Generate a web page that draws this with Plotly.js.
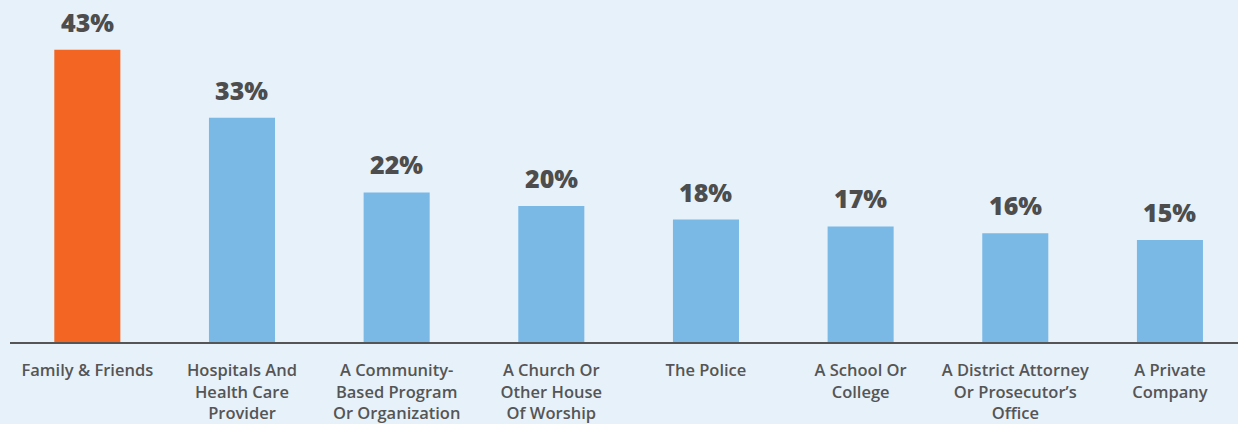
<!DOCTYPE html>
<html>
<head>
<meta charset="utf-8">
<script src="https://cdn.plot.ly/plotly-3.0.1.min.js"></script>
<style>html,body{margin:0;padding:0;background:#e6f1fa;}#chart{width:1238px;height:424px;}</style>
</head>
<body>
<div id="chart"></div>
<script>
var categories = [
  "Family & Friends",
  "Hospitals And<br>Health Care<br>Provider",
  "A Community-<br>Based Program<br>Or Organization",
  "A Church Or<br>Other House<br>Of Worship",
  "The Police",
  "A School Or<br>College",
  "A District Attorney<br>Or Prosecutor’s<br>Office",
  "A Private<br>Company"
];
var values = [43, 33, 22, 20, 18, 17, 16, 15];
var valueLabels = values.map(function(v){ return v + "%"; });
var barColors = values.map(function(v, i){ return i === 0 ? "#f26522" : "#7ab9e6"; });

var trace = {
  type: "bar",
  x: categories,
  y: values,
  width: 0.427,
  marker: { color: barColors },
  hoverinfo: "none"
};

var annotations = values.map(function(v, i){
  return {
    x: categories[i], y: v, xref: "x", yref: "y",
    text: valueLabels[i], showarrow: false,
    yanchor: "bottom", yshift: 9,
    font: { family: "Open Sans, sans-serif", size: 25, color: "#4d4d4d", weight: 800 }
  };
});

var layout = {
  width: 1238, height: 424,
  margin: { l: 10, r: 0, t: 0, b: 82 },
  paper_bgcolor: "#e6f1fa",
  plot_bgcolor: "#e6f1fa",
  showlegend: false,
  bargap: 0.57,
  xaxis: {
    range: [-0.5, 7.44],
    showline: true, linecolor: "#555555", linewidth: 1.5,
    ticks: "", showgrid: false, zeroline: false,
    tickfont: { family: "Open Sans, sans-serif", size: 16.5, color: "#555555", weight: 600 },
    ticklabelstandoff: 13
  },
  yaxis: {
    range: [0, 50.3], visible: false, showgrid: false, zeroline: false
  },
  annotations: annotations
};

Plotly.newPlot("chart", [trace], layout, { displayModeBar: false, staticPlot: true });
</script>
</body>
</html>
